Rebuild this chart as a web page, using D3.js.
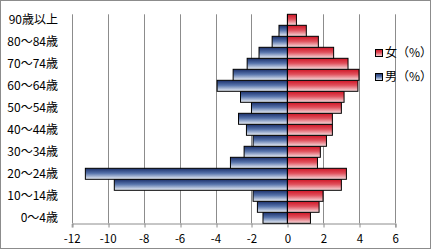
<!DOCTYPE html>
<html>
<head>
<meta charset="utf-8">
<script src="https://cdn.jsdelivr.net/npm/d3@7"></script>
<style>
  body { margin: 0; background: #fff; }
  text { font-family: "Noto Sans CJK JP", "DejaVu Sans", sans-serif; fill: #000; }
</style>
</head>
<body>
<script>
// 年齢階級 (下から上へ)
const ages = ["0～4歳", "5～9歳", "10～14歳", "15～19歳", "20～24歳", "25～29歳",
  "30～34歳", "35～39歳", "40～44歳", "45～49歳", "50～54歳", "55～59歳",
  "60～64歳", "65～69歳", "70～74歳", "75～79歳", "80～84歳", "85～89歳", "90歳以上"]
// 男は負の値で左側に描く
const male = [-1.36, -1.67, -1.91, -9.63, -11.24, -3.17, -2.41, -1.91, -2.28, -2.72,
  -2.0, -2.61, -3.91, -3.02, -2.24, -1.58, -0.85, -0.47, 0]
const female = [1.28, 1.76, 1.98, 3.0, 3.28, 1.67, 1.83, 2.17, 2.5, 2.5,
  3.0, 3.15, 3.92, 3.98, 3.37, 2.57, 1.72, 1.05, 0.5]
const xTicks = [-12, -10, -8, -6, -4, -2, 0, 2, 4, 6]
const legendLabels = ["女（%）", "男（%）"]

const width = 433
const height = 252
const plot = { left: 71.7, right: 395.3, top: 14.3, bottom: 223.3 }

const svg = d3.select("body").append("svg")
  .attr("width", width)
  .attr("height", height)

const defs = svg.append("defs")
const blue = defs.append("linearGradient").attr("id", "gBlue")
  .attr("x1", 0).attr("y1", 0).attr("x2", 0).attr("y2", 1)
blue.append("stop").attr("offset", "0%").attr("stop-color", "#1b2f6a")
blue.append("stop").attr("offset", "45%").attr("stop-color", "#5673ab")
blue.append("stop").attr("offset", "100%").attr("stop-color", "#eef2f8")
const red = defs.append("linearGradient").attr("id", "gRed")
  .attr("x1", 0).attr("y1", 0).attr("x2", 0).attr("y2", 1)
red.append("stop").attr("offset", "0%").attr("stop-color", "#cf1526")
red.append("stop").attr("offset", "45%").attr("stop-color", "#e0505c")
red.append("stop").attr("offset", "100%").attr("stop-color", "#f8dfe1")

// 外枠
svg.append("rect")
  .attr("x", 0.5).attr("y", 0.5)
  .attr("width", 430).attr("height", 248)
  .attr("fill", "#fff").attr("stroke", "#8c8c8c")

const x = d3.scaleLinear().domain([-12, 6]).range([plot.left, plot.right])
const y = d3.scaleBand().domain(ages).range([plot.bottom, plot.top]).padding(0)

// 縦グリッド線
svg.append("g")
  .selectAll("line")
  .data(xTicks)
  .join("line")
  .attr("x1", d => Math.round(x(d)) + 0.5)
  .attr("x2", d => Math.round(x(d)) + 0.5)
  .attr("y1", plot.top)
  .attr("y2", plot.bottom)
  .attr("stroke", "#8c8c8c")

// x軸
const xAxis = svg.append("g")
  .attr("transform", `translate(0,${Math.round(plot.bottom) + 0.5})`)
  .call(d3.axisBottom(x).tickValues(xTicks).tickSize(4).tickPadding(7)
    .tickFormat(d3.format("d")))
xAxis.select(".domain").attr("stroke", "#8c8c8c")
xAxis.selectAll(".tick line").attr("stroke", "#8c8c8c")
  .attr("transform", d => `translate(${Math.round(x(d)) + 0.5 - x(d)},0)`)
xAxis.selectAll(".tick text").attr("font-size", 11.5)
  .text(d => d < 0 ? "-" + Math.abs(d) : d)

// 棒
svg.append("g")
  .selectAll("rect")
  .data(ages.map((a, i) => ({ a, v: male[i] })).filter(d => d.v !== 0))
  .join("rect")
  .attr("x", d => x(d.v))
  .attr("y", d => y(d.a))
  .attr("width", d => x(0) - x(d.v))
  .attr("height", y.bandwidth())
  .attr("fill", "url(#gBlue)")
  .attr("stroke", "#000")
  .attr("stroke-width", 1)

svg.append("g")
  .selectAll("rect")
  .data(ages.map((a, i) => ({ a, v: female[i] })))
  .join("rect")
  .attr("x", x(0))
  .attr("y", d => y(d.a))
  .attr("width", d => x(d.v) - x(0))
  .attr("height", y.bandwidth())
  .attr("fill", "url(#gRed)")
  .attr("stroke", "#000")
  .attr("stroke-width", 1)

// 0の縦軸
svg.append("line")
  .attr("x1", x(0)).attr("x2", x(0))
  .attr("y1", plot.top).attr("y2", plot.bottom)
  .attr("stroke", "#000")

// 年齢ラベル (1つおき)
svg.append("g")
  .selectAll("text")
  .data(ages.filter((a, i) => i % 2 === 0))
  .join("text")
  .attr("x", 58)
  .attr("y", d => y(d) + y.bandwidth() / 2)
  .attr("dy", "0.35em")
  .attr("text-anchor", "end")
  .attr("font-size", 12)
  .text(d => d)

// 凡例
const legend = svg.append("g")
  .selectAll("g")
  .data(legendLabels)
  .join("g")
  .attr("transform", (d, i) => `translate(375,${53 + i * 24})`)
legend.append("rect")
  .attr("x", 0.5).attr("y", -3.5)
  .attr("width", 7).attr("height", 7)
  .attr("fill", (d, i) => i === 0 ? "url(#gRed)" : "url(#gBlue)")
  .attr("stroke", "#000")
legend.append("text")
  .attr("x", 10)
  .attr("dy", "0.35em")
  .attr("font-size", 12)
  .text(d => d)
</script>
</body>
</html>
